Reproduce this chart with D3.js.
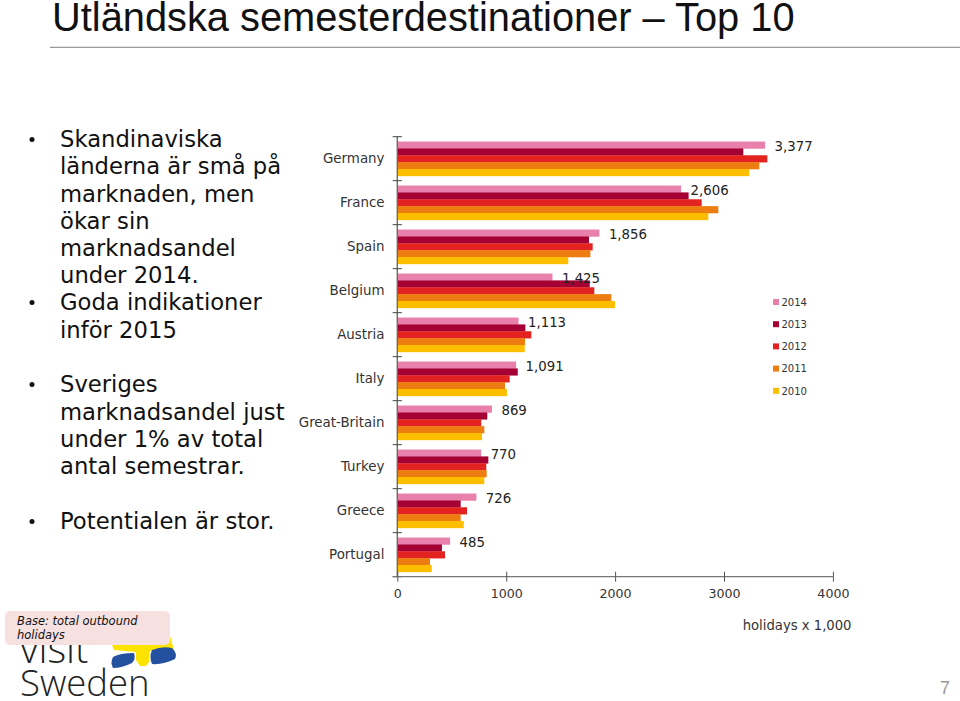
<!DOCTYPE html>
<html>
<head>
<meta charset="utf-8">
<script src="https://cdnjs.cloudflare.com/ajax/libs/d3/7.8.5/d3.min.js"></script>
<style>
html, body { margin: 0; padding: 0; background: #fff; }
svg { display: block; }
text { font-family: "DejaVu Sans", sans-serif; }
</style>
</head>
<body>
<div id="image"></div>
<script>
// chart data
var countries = ["Germany", "France", "Spain", "Belgium", "Austria", "Italy", "Great-Britain", "Turkey", "Greece", "Portugal"];
var years = ["2014", "2013", "2012", "2011", "2010"];
var yearColors = ["#e97fab", "#a50034", "#e2231f", "#ee7d11", "#fdbe00"];
var v2014 = [3377, 2606, 1856, 1425, 1113, 1091, 869, 770, 726, 485];
var v2013 = [3177, 2675, 1760, 1767, 1176, 1106, 826, 836, 582, 410];
var v2012 = [3398, 2795, 1794, 1809, 1231, 1032, 771, 817, 640, 438];
var v2011 = [3324, 2948, 1773, 1965, 1173, 989, 799, 821, 582, 300];
var v2010 = [3232, 2856, 1570, 1999, 1170, 1007, 778, 799, 610, 316];
var seriesValues = [v2014, v2013, v2012, v2011, v2010];
var xTicks = [0, 1000, 2000, 3000, 4000];

var bulletLines = [
    {t: "Skandinaviska", b: true, y: 139},
    {t: "länderna är små på", y: 166},
    {t: "marknaden, men", y: 194},
    {t: "ökar sin", y: 221},
    {t: "marknadsandel", y: 248},
    {t: "under 2014.", y: 275},
    {t: "Goda indikationer", b: true, y: 302},
    {t: "inför 2015", y: 330},
    {t: "Sveriges", b: true, y: 384},
    {t: "marknadsandel just", y: 412},
    {t: "under 1% av total", y: 439},
    {t: "antal semestrar.", y: 466},
    {t: "Potentialen är stor.", b: true, y: 521}
];

var svg = d3.select("#image").append("svg")
    .attr("width", 960)
    .attr("height", 701);

// title and rule
svg.append("text")
    .attr("x", 52).attr("y", 30.5)
    .style("font-family", '"Liberation Sans", sans-serif')
    .style("font-size", "39.8px")
    .attr("fill", "#111")
    .text("Utländska semesterdestinationer – Top 10");
svg.append("line")
    .attr("x1", 50).attr("x2", 960)
    .attr("y1", 47.3).attr("y2", 47.3)
    .attr("stroke", "#999").attr("stroke-width", 1.2);

// bullet list on the left
var list = svg.append("g");
list.selectAll("text").data(bulletLines).enter().append("text")
    .attr("x", 60)
    .attr("y", function(d){ return d.y + 8; })
    .style("font-size", "22.7px")
    .attr("fill", "#111")
    .text(function(d){ return d.t; });
list.selectAll("circle").data(bulletLines.filter(function(d){ return d.b; })).enter().append("circle")
    .attr("cx", 32)
    .attr("cy", function(d){ return d.y + 0.5; })
    .attr("r", 2.5)
    .attr("fill", "#111");

// the chart
var x = d3.scaleLinear().domain([0, 4000]).range([397.3, 832.9]);
var y = d3.scaleBand().domain(countries).range([136.7, 576.7]).paddingInner(0.22).paddingOuter(0.11);
var y2 = d3.scaleBand().domain(years).range([0, y.bandwidth()]);

var groups = svg.selectAll("g.country").data(countries).enter().append("g")
    .attr("class", "country")
    .attr("transform", function(d){ return "translate(0," + y(d) + ")"; });

groups.selectAll("rect")
    .data(function(d, i){
        return years.map(function(yr, j){ return {year: yr, color: yearColors[j], value: seriesValues[j][i]}; });
    })
    .enter().append("rect")
    .attr("x", x(0))
    .attr("y", function(d){ return y2(d.year); })
    .attr("width", function(d){ return x(d.value) - x(0); })
    .attr("height", y2.bandwidth() + 0.3)
    .attr("fill", function(d){ return d.color; });

// value labels for 2014 sit after the top bar
svg.selectAll("text.value").data(countries).enter().append("text")
    .attr("class", "value")
    .attr("x", function(d, i){ return x(v2014[i]) + 9.5; })
    .attr("y", function(d){ return y(d) + y2("2014") + y2.bandwidth() / 2 + 6.5; })
    .style("font-size", "13.3px")
    .attr("fill", "#222")
    .text(function(d, i){ return d3.format(",")(v2014[i]); });

// y axis: ticks between the categories, names on the left
var yAxis = svg.append("g");
var yTickPos = d3.range(countries.length + 1).map(function(i){ return 136.7 + i * y.step(); });
yAxis.append("line")
    .attr("x1", x(0)).attr("x2", x(0))
    .attr("y1", yTickPos[0]).attr("y2", yTickPos[countries.length])
    .attr("stroke", "#6b6b5f").attr("stroke-width", 1.4);
yAxis.selectAll("line.tick").data(yTickPos).enter().append("line")
    .attr("class", "tick")
    .attr("x1", x(0) - 4.6).attr("x2", x(0) + 4.6)
    .attr("y1", function(d){ return d; }).attr("y2", function(d){ return d; })
    .attr("stroke", "#444");
yAxis.selectAll("text").data(countries).enter().append("text")
    .attr("x", 384.5)
    .attr("y", function(d){ return y(d) + y.bandwidth() / 2 + 4.5; })
    .attr("text-anchor", "end")
    .style("font-size", "13.4px")
    .attr("fill", "#333")
    .text(function(d){ return d; });

// x axis
var xAxis = svg.append("g")
    .attr("transform", "translate(0,576.7)")
    .call(d3.axisBottom(x).tickValues(xTicks).tickFormat(d3.format("d")).tickSize(0));
xAxis.select(".domain").attr("stroke", "#777").attr("stroke-width", 1.3).attr("d", "M392.7,0H" + x(4000));
xAxis.selectAll(".tick line")
    .attr("y1", -5).attr("y2", 5).attr("stroke", "#555");
xAxis.selectAll(".tick text")
    .attr("y", 12.5)
    .style("font-family", '"DejaVu Sans", sans-serif')
    .style("font-size", "12.6px")
    .attr("fill", "#333");
svg.append("text")
    .attr("x", 851.5).attr("y", 629.5)
    .attr("text-anchor", "end")
    .style("font-size", "13.2px")
    .attr("fill", "#333")
    .text("holidays x 1,000");

// legend
var legend = svg.selectAll("g.legend").data(years).enter().append("g")
    .attr("class", "legend")
    .attr("transform", function(d, i){ return "translate(773,"  + (302 + i * 22.2) + ")"; });
legend.append("rect")
    .attr("x", 0).attr("y", -3)
    .attr("width", 6).attr("height", 6)
    .attr("fill", function(d, i){ return yearColors[i]; });
legend.append("text")
    .attr("x", 8.5).attr("y", 3.8)
    .style("font-size", "10px")
    .attr("fill", "#333")
    .text(function(d){ return d; });

// logo, then the base note on top of it
var logo = svg.append("g");
logo.append("text").attr("x", 20).attr("y", 662.7)
    .style("font-family", '"Open Sans", sans-serif').style("font-weight", 300)
    .style("font-size", "40px").attr("fill", "#222").text("visit");
logo.append("text").attr("x", 20).attr("y", 696)
    .style("font-family", '"Open Sans", sans-serif').style("font-weight", 300)
    .style("font-size", "36.5px").attr("fill", "#222").text("Sweden");
logo.append("path").attr("fill", "#fce300")
    .attr("d", "M112 645 L170 636 L174 650 L150 651 L149 662 L146 666 L140 666 L136 660 L136 652 L114 650 Z");
logo.append("path").attr("fill", "#2450a0")
    .attr("d", "M113 657 Q120 653 134 653 Q136 659 132 663 Q122 668 113 668 Q110 663 113 657 Z");
logo.append("path").attr("fill", "#2450a0")
    .attr("d", "M152 650 Q162 646 172 648 Q178 654 175 659 Q163 665 152 664 Q149 657 152 650 Z");

svg.append("rect")
    .attr("x", 5).attr("y", 611).attr("width", 165).attr("height", 34).attr("rx", 5)
    .attr("fill", "#f6e0e0");
svg.append("text").attr("x", 17).attr("y", 625)
    .style("font-size", "11.5px").style("font-style", "italic").attr("fill", "#111")
    .text("Base: total outbound");
svg.append("text").attr("x", 17).attr("y", 639)
    .style("font-size", "11.5px").style("font-style", "italic").attr("fill", "#111")
    .text("holidays");

// page number
svg.append("text").attr("x", 945).attr("y", 694)
    .attr("text-anchor", "middle")
    .style("font-family", '"Liberation Sans", sans-serif')
    .style("font-size", "18px").attr("fill", "#999")
    .text("7");
</script>
</body>
</html>
